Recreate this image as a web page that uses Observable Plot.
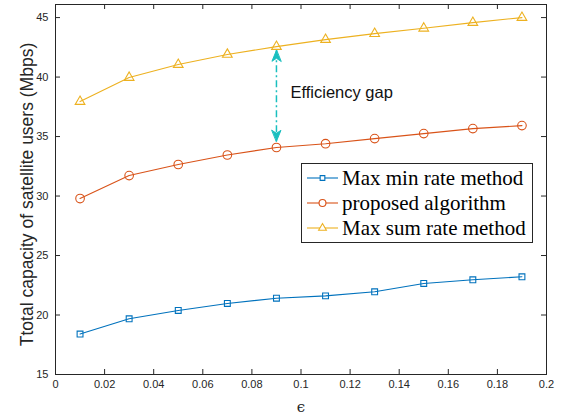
<!DOCTYPE html>
<html><head><meta charset="utf-8">
<script src="https://cdn.jsdelivr.net/npm/d3@7"></script>
<script src="https://cdn.jsdelivr.net/npm/@observablehq/plot@0.6"></script>
<style>body{margin:0;background:#fff}</style>
</head><body><div id="chart"></div>
<script>
const epsilon  = [0.01, 0.03, 0.05, 0.07, 0.09, 0.11, 0.13, 0.15, 0.17, 0.19];
const maxMin   = [18.40, 19.68, 20.38, 20.97, 21.41, 21.61, 21.95, 22.65, 22.96, 23.21];
const proposed = [29.79, 31.72, 32.65, 33.45, 34.08, 34.40, 34.83, 35.25, 35.67, 35.92];
const maxSum   = [37.94, 39.96, 41.05, 41.90, 42.56, 43.15, 43.65, 44.10, 44.58, 45.00];
const seriesNames   = ["Max min rate method", "proposed algorithm", "Max sum rate method"];
const seriesColors  = ["#0072BD", "#D95319", "#EDB120"];
const seriesSymbols = ["square", "circle", "triangle"];
const seriesR       = [3.3, 4.3, 3.6];
const xTicks = [0, 0.02, 0.04, 0.06, 0.08, 0.1, 0.12, 0.14, 0.16, 0.18, 0.2];
const yTicks = [15, 20, 25, 30, 35, 40, 45];
const gapX = [0.09], gapTop = [42.25], gapBottom = [34.6];
const gapLabel = ["Efficiency gap"];
const yLabel = "Ttotal capacity of satellite users (Mbps)";
const xLabel = "ϵ";

const seriesValues = [maxMin, proposed, maxSum];
const rows = seriesValues.flatMap((vals, s) => vals.map((v, i) => ({x: epsilon[i], y: v, s})));
const gap = gapX.map((x, i) => ({x, top: gapTop[i], bottom: gapBottom[i], mid: (gapTop[i] + gapBottom[i]) / 2, label: gapLabel[i]}));
const teal = "#1ABFBF";
const head = {draw(ctx) { ctx.moveTo(0, 0); ctx.lineTo(-4.5, 11); ctx.lineTo(0, 8); ctx.lineTo(4.5, 11); ctx.closePath(); }};
const axisColor = "#262626";

const W = 565, H = 420, mL = 55, mR = 19, mT = 4, mB = 46;
const pw = W - mL - mR, ph = H - mT - mB;

const marks = [
  Plot.frame({stroke: axisColor, strokeWidth: 1}),
  Plot.ruleX(xTicks, {x: d => d, insetTop: ph - 5, stroke: axisColor}),
  Plot.ruleX(xTicks, {x: d => d, insetBottom: ph - 5, stroke: axisColor}),
  Plot.ruleY(yTicks, {y: d => d, insetRight: pw - 5, stroke: axisColor}),
  Plot.ruleY(yTicks, {y: d => d, insetLeft: pw - 5, stroke: axisColor}),
  Plot.axisX(xTicks, {tickSize: 0, tickPadding: 6, fontSize: 11, fill: axisColor, tickFormat: d => String(d), label: null}),
  Plot.axisY(yTicks, {tickSize: 0, tickPadding: 7, fontSize: 11, fill: axisColor, tickFormat: d => String(d), label: null}),
  Plot.text([yLabel], {frameAnchor: "left", textAnchor: "middle", dx: -28, dy: 5, rotate: -90, fontSize: 17.5, fill: axisColor}),
  Plot.text([xLabel], {frameAnchor: "bottom", textAnchor: "middle", dy: 37, fontSize: 15, fontFamily: "DejaVu Serif, serif", fill: axisColor}),
  Plot.link(gap, {x1: "x", x2: "x", y1: "top", y2: "bottom", stroke: teal, strokeWidth: 1.5, strokeDasharray: "7,3,2,3"}),
  Plot.vector(gap, {x: "x", y: "top", anchor: "start", shape: head, length: 11, rotate: 0, fill: teal, stroke: teal, strokeWidth: 1}),
  Plot.vector(gap, {x: "x", y: "bottom", anchor: "start", shape: head, length: 11, rotate: 180, fill: teal, stroke: teal, strokeWidth: 1}),
  Plot.text(gap, {x: "x", y: "mid", text: "label", dx: 14, dy: -3, textAnchor: "start", fontSize: 16.5, fill: "#111"})
];
seriesValues.forEach((vals, s) => {
  const d = rows.filter(r => r.s === s);
  marks.push(Plot.line(d, {x: "x", y: "y", stroke: seriesColors[s], strokeWidth: 1.1}));
  marks.push(Plot.dot(d, {x: "x", y: "y", symbol: seriesSymbols[s], r: seriesR[s], stroke: seriesColors[s], strokeWidth: 1.1, fill: "none"}));
});

const chart = Plot.plot({
  width: W, height: H, marginLeft: mL, marginRight: mR, marginTop: mT, marginBottom: mB,
  x: {domain: [0, 0.2]},
  y: {domain: [15, 46.1]},
  style: {fontFamily: "Liberation Sans, Arial, sans-serif", background: "#fff", overflow: "visible"},
  marks
});
document.getElementById("chart").appendChild(chart);

// legend
const svg = d3.select(chart);
const lg = svg.append("g").attr("font-family", "Liberation Serif, Times New Roman, serif").attr("text-anchor", "start");
lg.append("rect").attr("x", 301.5).attr("y", 163.5).attr("width", 231).attr("height", 79)
  .attr("fill", "#fff").attr("stroke", axisColor).attr("stroke-width", 1);
seriesNames.forEach((name, i) => {
  const y = 178 + i * 25;
  lg.append("line").attr("x1", 307).attr("x2", 338).attr("y1", y).attr("y2", y)
    .attr("stroke", seriesColors[i]).attr("stroke-width", 1.1);
  const sym = {square: d3.symbolSquare, circle: d3.symbolCircle, triangle: d3.symbolTriangle}[seriesSymbols[i]];
  const rr = seriesR[i] * 0.8;
  lg.append("path").attr("d", d3.symbol(sym, Math.PI * rr * rr)())
    .attr("transform", `translate(322.5,${y})`).attr("fill", "#fff")
    .attr("stroke", seriesColors[i]).attr("stroke-width", 1.1);
  lg.append("text").attr("x", 342).attr("y", y).attr("dy", "0.35em")
    .attr("font-size", 21).attr("fill", "#000").text(name);
});
</script></body></html>
